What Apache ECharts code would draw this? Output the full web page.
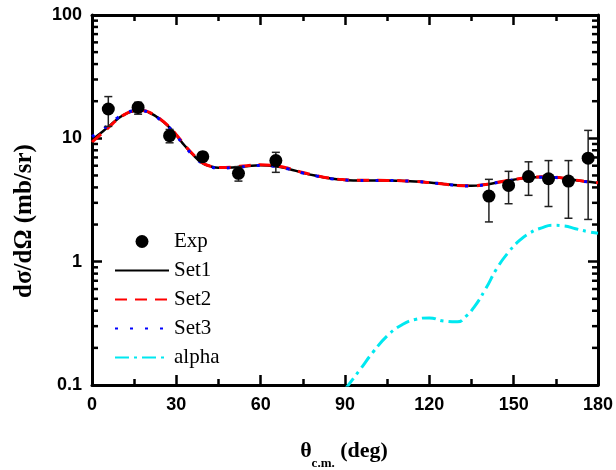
<!DOCTYPE html>
<html><head><meta charset="utf-8">
<script src="https://cdn.jsdelivr.net/npm/echarts@6/dist/echarts.min.js"></script>
<style>html,body{margin:0;padding:0;background:#fff}#c{width:616px;height:470px}</style>
</head><body><div id="c"></div>
<script>
// Experimental data
const expAngle = [5.8, 16.4, 27.6, 39.4, 52.1, 65.4, 141.2, 148.2, 155.3, 162.4, 169.5, 176.5];
const expValue = [17.3, 17.8, 10.5, 7.1, 5.2, 6.6, 3.4, 4.15, 4.9, 4.7, 4.5, 6.9];
const expLow   = [12.5, 15.7, 9.2, 6.5, 4.5, 5.3, 2.1, 2.95, 3.45, 2.8, 2.25, 2.2];
const expHigh  = [21.8, 19.6, 11.8, 7.7, 5.9, 7.7, 4.65, 5.4, 6.45, 6.6, 6.6, 11.6];

// Theory curves
const setAngle = [0, 3, 6, 9, 12, 15, 18, 21, 24, 27, 30, 33, 36, 39, 42, 45, 50, 55, 60, 65, 70, 75, 80, 85, 90, 95, 100, 105, 110, 115, 120, 125, 130, 135, 140, 145, 150, 155, 160, 165, 170, 175, 180];
const set1 = [9.7, 11.0, 12.5, 14.3, 15.8, 16.6, 16.7, 15.9, 14.4, 12.6, 10.6, 8.7, 7.35, 6.35, 5.95, 5.78, 5.8, 5.95, 6.05, 5.95, 5.65, 5.25, 4.95, 4.72, 4.6, 4.55, 4.55, 4.55, 4.52, 4.47, 4.38, 4.27, 4.16, 4.12, 4.22, 4.42, 4.62, 4.78, 4.85, 4.82, 4.65, 4.48, 4.35];
const set2 = [9.3, 10.7, 12.3, 14.2, 15.8, 16.7, 16.8, 16.0, 14.5, 12.7, 10.7, 8.8, 7.4, 6.4, 5.95, 5.8, 5.85, 6.0, 6.1, 6.0, 5.7, 5.28, 4.97, 4.74, 4.62, 4.57, 4.57, 4.56, 4.53, 4.48, 4.38, 4.26, 4.15, 4.12, 4.22, 4.43, 4.64, 4.8, 4.87, 4.83, 4.66, 4.49, 4.36];
const set3 = [10.3, 11.5, 12.9, 14.6, 16.0, 16.7, 16.7, 15.8, 14.3, 12.5, 10.5, 8.6, 7.25, 6.3, 5.9, 5.75, 5.78, 5.93, 6.03, 5.93, 5.63, 5.24, 4.94, 4.71, 4.6, 4.55, 4.55, 4.55, 4.52, 4.47, 4.37, 4.26, 4.15, 4.11, 4.21, 4.41, 4.61, 4.77, 4.84, 4.81, 4.64, 4.47, 4.34];

const alphaAngle = [90, 95, 100, 105, 110, 115, 120, 125, 130, 133, 136, 140, 144, 148, 152, 156, 160, 164, 168, 172, 176, 180];
const alphaValue = [0.092, 0.13, 0.185, 0.25, 0.305, 0.34, 0.35, 0.33, 0.325, 0.36, 0.43, 0.6, 0.88, 1.18, 1.48, 1.72, 1.88, 1.97, 1.95, 1.85, 1.76, 1.70];

// Axes
const xMin = 0, xMax = 180, xInterval = 30;
const yMin = 0.1, yMax = 100;
const yMinorTicks = [0.2,0.3,0.4,0.5,0.6,0.7,0.8,0.9,2,3,4,5,6,7,8,9,20,30,40,50,60,70,80,90];

const zip = (a, b) => a.map((v, i) => [v, b[i]]);

const chart = echarts.init(document.getElementById('c'));
const tickFont = {fontFamily: 'Liberation Sans', fontWeight: 'bold', fontSize: 18, color: '#000'};
const axLine = {show: true, onZero: false, lineStyle: {color: '#000', width: 3}};
const noSym = {opacity: 0};

chart.setOption({
  animation: false,
  backgroundColor: '#fff',
  grid: {left: 92, right: 16, top: 15, bottom: 85, containLabel: false},
  legend: {
    data: [
      {name: 'Exp'},
      {name: 'Set1', itemStyle: noSym},
      {name: 'Set2', itemStyle: noSym},
      {name: 'Set3', itemStyle: noSym},
      {name: 'alpha', itemStyle: noSym}
    ],
    orient: 'vertical', left: 114, top: 231, padding: 0, itemWidth: 54, itemHeight: 13, itemGap: 8,
    textStyle: {fontFamily: 'Liberation Serif', fontSize: 21, color: '#000'}
  },
  xAxis: [{
    type: 'value', min: xMin, max: xMax, interval: xInterval, position: 'bottom',
    axisLine: axLine,
    axisTick: {show: true, inside: true, length: 10, lineStyle: {color: '#000', width: 2.5}},
    minorTick: {show: true, splitNumber: 2, length: 6, lineStyle: {color: '#000', width: 2.5}},
    axisLabel: Object.assign({margin: 11}, tickFont),
    splitLine: {show: false}
  }, {
    type: 'value', min: xMin, max: xMax, interval: xInterval, position: 'top',
    axisLine: axLine,
    axisTick: {show: true, inside: true, length: 10, lineStyle: {color: '#000', width: 2.5}},
    minorTick: {show: true, splitNumber: 2, length: 6, lineStyle: {color: '#000', width: 2.5}},
    axisLabel: {show: false}, splitLine: {show: false}
  }],
  yAxis: [{
    type: 'log', logBase: 10, min: yMin, max: yMax, position: 'left',
    axisLine: axLine,
    axisTick: {show: true, inside: true, length: 10, lineStyle: {color: '#000', width: 2.5}},
    axisLabel: Object.assign({margin: 10}, tickFont),
    splitLine: {show: false}
  }, {
    type: 'log', logBase: 10, min: yMin, max: yMax, position: 'right',
    axisLine: axLine,
    axisTick: {show: true, inside: true, length: 10, lineStyle: {color: '#000', width: 2.5}},
    axisLabel: {show: false}, splitLine: {show: false}
  }],
  graphic: [{
    type: 'text', x: 25, y: 221, rotation: Math.PI / 2,
    style: {text: 'dσ/dΩ (mb/sr)', font: 'bold 25px "Liberation Serif"', fill: '#000', align: 'center', verticalAlign: 'middle'}
  }, {
    type: 'text', x: 344, y: 451,
    style: {
      text: '{a|θ}{b|c.m.}{a| (deg)}', align: 'center', verticalAlign: 'middle', fill: '#000',
      rich: {
        a: {font: 'bold 22px "Liberation Serif"', lineHeight: 38, verticalAlign: 'middle'},
        b: {font: 'bold 13px "Liberation Serif"', verticalAlign: 'bottom', lineHeight: 14}
      }
    }
  }],
  series: [{
    name: 'minorTicks', type: 'custom', silent: true, z: 5,
    data: yMinorTicks.map(v => [xMin, v]),
    encode: {x: 0, y: 1},
    renderItem: function (params, api) {
      const v = api.value(1);
      const pl = api.coord([xMin, v]);
      const pr = api.coord([xMax, v]);
      const st = {stroke: '#000', lineWidth: 2.5};
      return {type: 'group', children: [
        {type: 'line', shape: {x1: pl[0], y1: pl[1], x2: pl[0] + 6, y2: pl[1]}, style: st},
        {type: 'line', shape: {x1: pr[0], y1: pr[1], x2: pr[0] - 6, y2: pr[1]}, style: st}
      ]};
    }
  }, {
    name: 'Set1', type: 'line', data: zip(setAngle, set1), smooth: true, symbol: 'none', z: 2,
    lineStyle: {color: '#000', width: 2.5, type: 'solid'}, itemStyle: {color: '#000'}
  }, {
    name: 'Set2', type: 'line', data: zip(setAngle, set2), smooth: true, symbol: 'none', z: 3,
    lineStyle: {color: '#ff0000', width: 3, type: [12, 8]}, itemStyle: {color: '#ff0000'}
  }, {
    name: 'Set3', type: 'line', data: zip(setAngle, set3), smooth: true, symbol: 'none', z: 4,
    lineStyle: {color: '#0000ff', width: 3, type: [3, 12]}, itemStyle: {color: '#0000ff'}
  }, {
    name: 'alpha', type: 'line', data: zip(alphaAngle, alphaValue), smooth: true, symbol: 'none', z: 4,
    lineStyle: {color: '#00e8f0', width: 3, type: [14, 5, 3, 5]}, itemStyle: {color: '#00e8f0'}
  }, {
    name: 'errors', type: 'custom', z: 6,
    data: expAngle.map((x, i) => [x, expLow[i], expHigh[i]]),
    encode: {x: 0, y: [1, 2]},
    renderItem: function (params, api) {
      const x = api.value(0);
      const lo = api.coord([x, api.value(1)]);
      const hi = api.coord([x, api.value(2)]);
      const cw = 4;
      const st = {stroke: '#222', lineWidth: 1.5};
      return {type: 'group', children: [
        {type: 'line', shape: {x1: lo[0], y1: lo[1], x2: hi[0], y2: hi[1]}, style: st},
        {type: 'line', shape: {x1: lo[0] - cw, y1: lo[1], x2: lo[0] + cw, y2: lo[1]}, style: st},
        {type: 'line', shape: {x1: hi[0] - cw, y1: hi[1], x2: hi[0] + cw, y2: hi[1]}, style: st}
      ]};
    }
  }, {
    name: 'Exp', type: 'scatter', data: zip(expAngle, expValue), symbol: 'circle', symbolSize: 13, z: 7,
    itemStyle: {color: '#000', opacity: 1}
  }]
});
</script>
</body></html>
